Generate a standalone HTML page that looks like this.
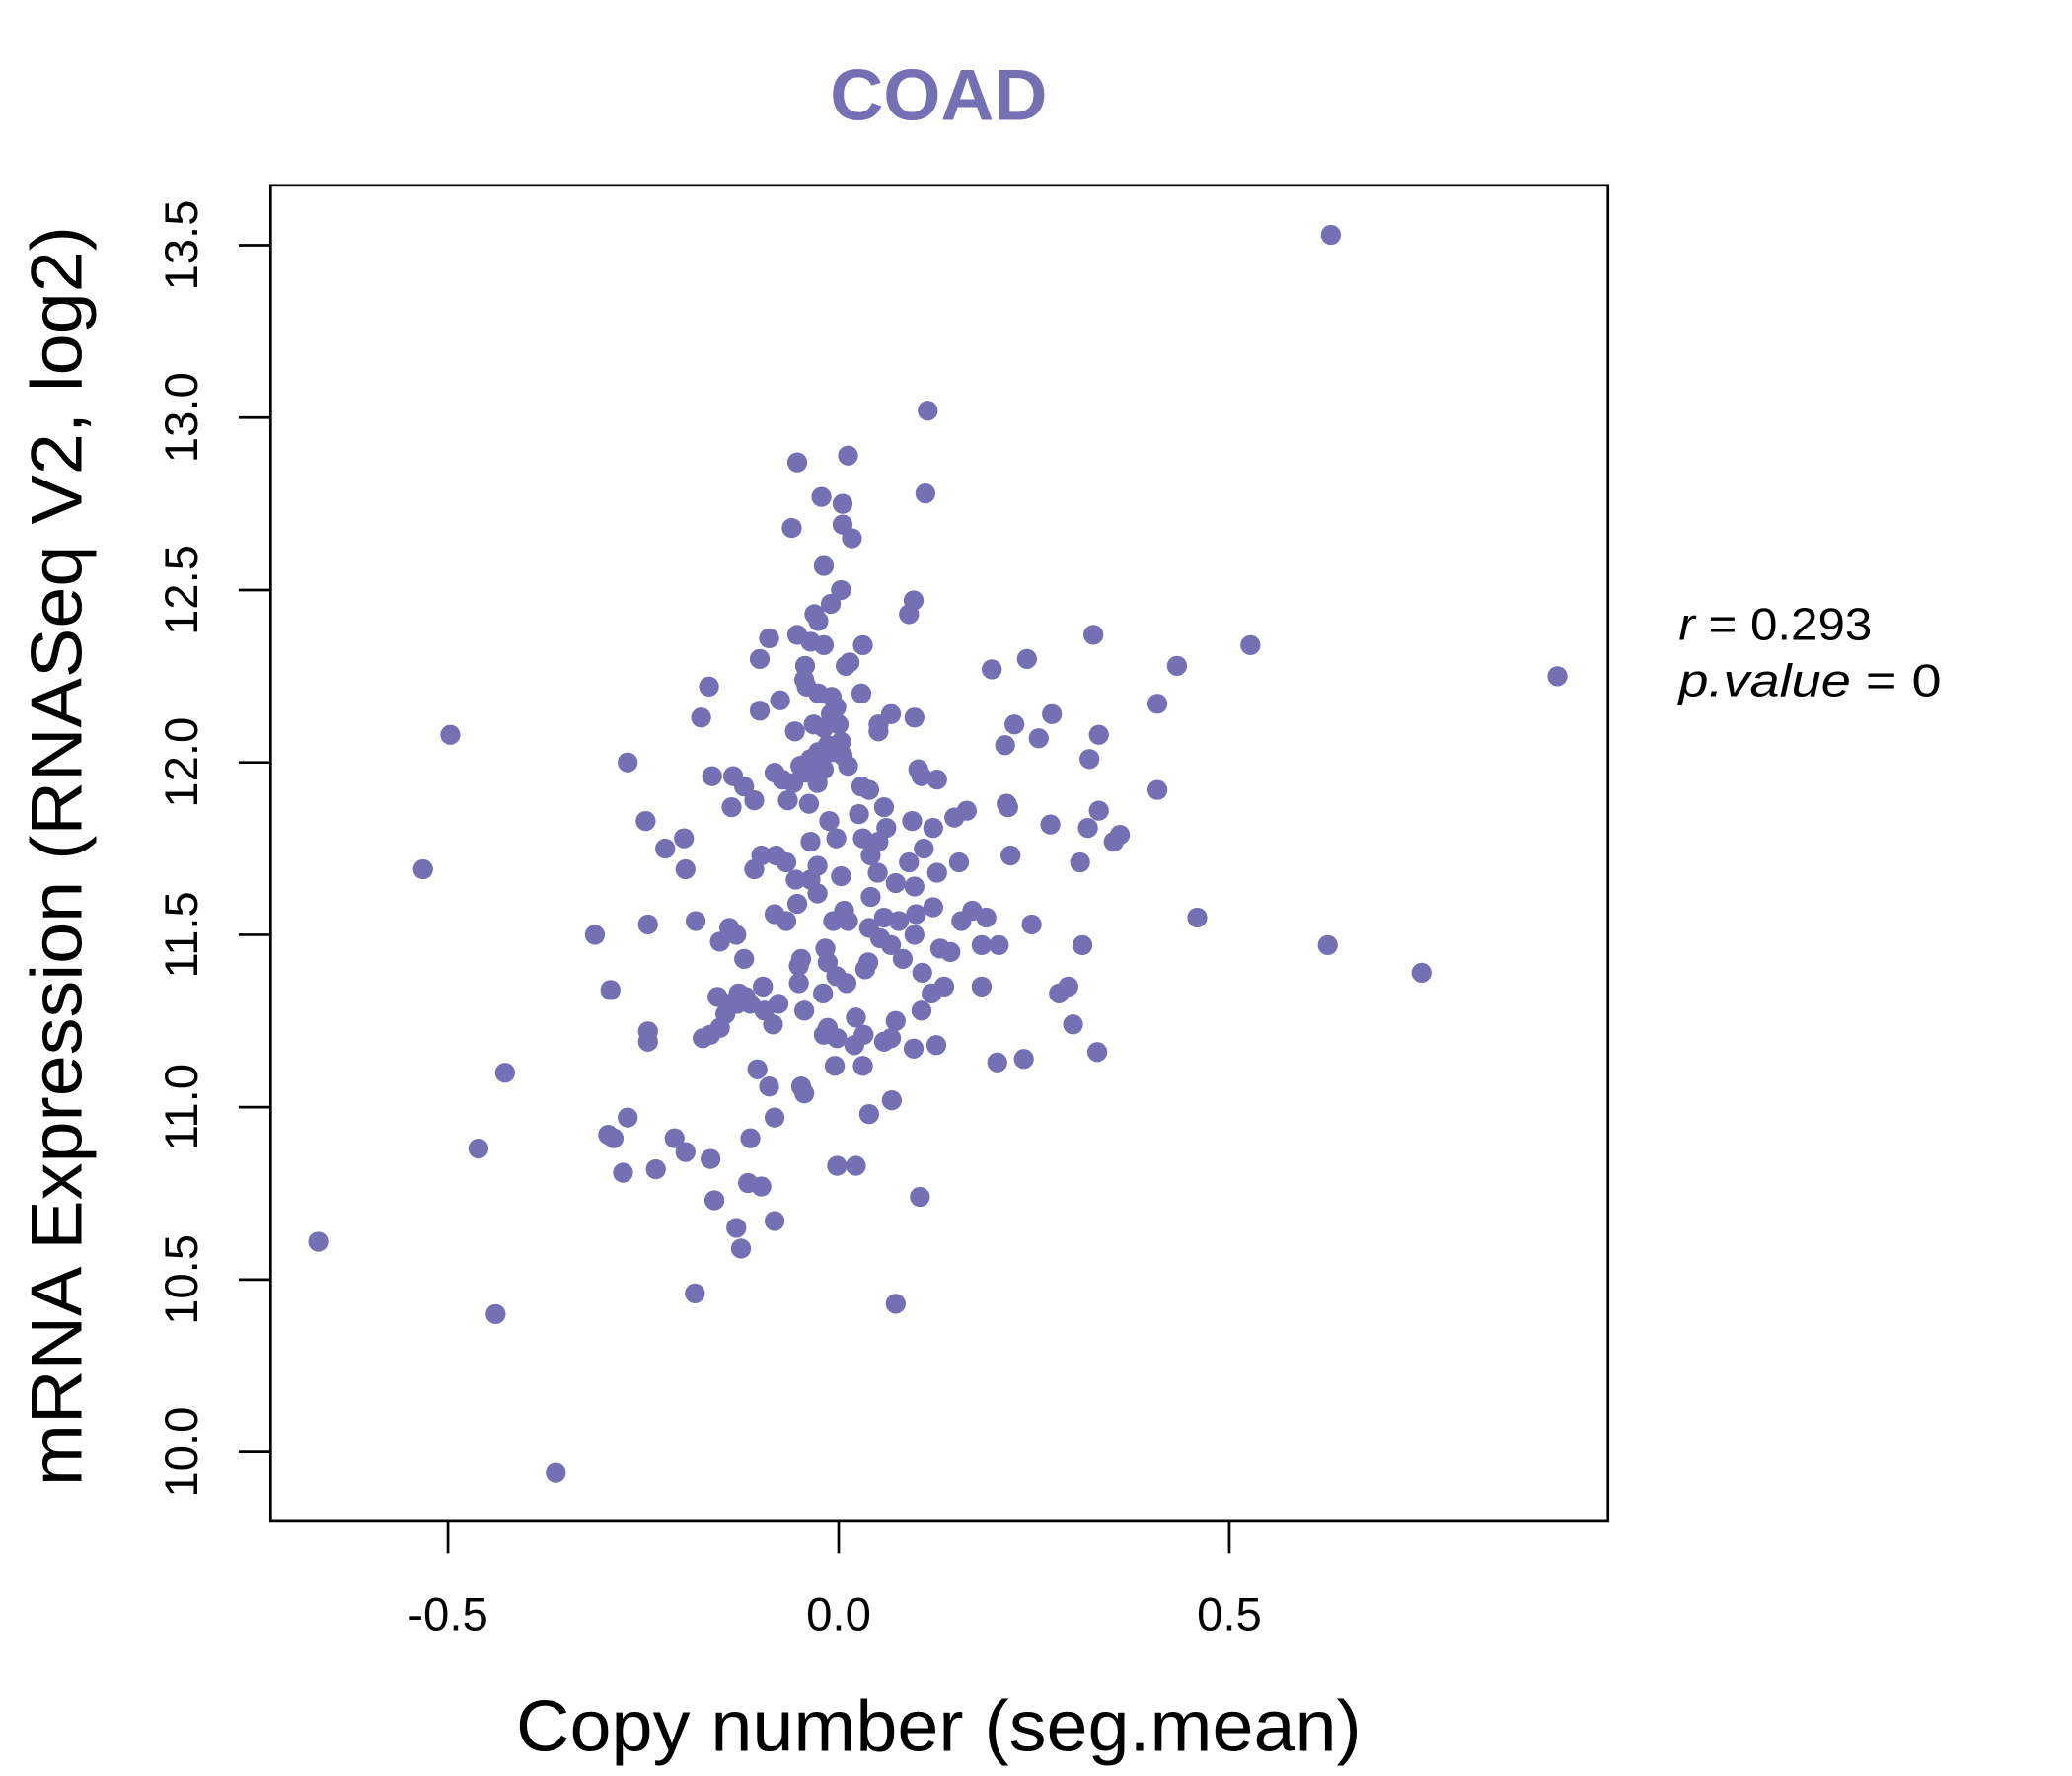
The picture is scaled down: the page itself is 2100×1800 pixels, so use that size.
<!DOCTYPE html>
<html><head><meta charset="utf-8"><style>html,body{margin:0;padding:0;background:#fff}svg{display:block}</style></head>
<body>
<svg id="chart" width="2100" height="1800" viewBox="0 0 1552 1332" xmlns="http://www.w3.org/2000/svg" font-family="Liberation Sans, sans-serif">
<rect width="1552" height="1332" fill="#fff"/>
<text x="703" y="90" text-anchor="middle" font-size="54" font-weight="bold" fill="#7570B3" textLength="163" lengthAdjust="spacingAndGlyphs">COAD</text>
<rect x="202" y="139" width="1003" height="1002" fill="none" stroke="#000" stroke-width="2"/>
<g id="xticks"></g>
<g id="yticks"></g>
<g id="points"></g>
<text x="703" y="1313" text-anchor="middle" font-size="54" textLength="634" lengthAdjust="spacingAndGlyphs">Copy number (seg.mean)</text>
<text transform="translate(60,642) rotate(-90)" text-anchor="middle" font-size="54" textLength="945" lengthAdjust="spacingAndGlyphs">mRNA Expression (RNASeq V2, log2)</text>
<text x="1258" y="480" font-size="34" textLength="145" lengthAdjust="spacingAndGlyphs"><tspan font-style="italic">r</tspan> = 0.293</text>
<text x="1258" y="522" font-size="34" textLength="197" lengthAdjust="spacingAndGlyphs"><tspan font-style="italic">p.value</tspan> = 0</text>
</svg>
<script>
const xTicks=[-0.5,0.0,0.5];
const xTickLabels=["-0.5","0.0","0.5"];
const yTicks=[10,10.5,11,11.5,12,12.5,13,13.5];
const yTickLabels=["10.0","10.5","11.0","11.5","12.0","12.5","13.0","13.5"];
const xVals=[0.630,0.114,0.012,-0.053,0.111,-0.022,0.005,0.005,-0.060,0.017,-0.019,0.003,0.096,-0.010,0.090,-0.031,-0.026,0.326,-0.089,-0.053,-0.036,-0.019,0.031,0.527,0.241,-0.101,0.014,0.009,-0.043,0.196,0.433,0.920,-0.044,-0.041,-0.166,0.029,-0.026,-0.009,-0.075,0.408,-0.003,-0.101,0.067,0.273,-0.010,0.097,-0.176,-0.032,0,0.225,0.051,-0.019,0.051,-0.056,-0.497,0.333,0.256,0.213,0.003,-0.014,-0.009,-0.026,0.005,0.321,-0.036,-0.049,-0.270,0.012,-0.019,0.102,-0.082,-0.043,-0.162,-0.135,0.106,0.126,-0.072,-0.058,-0.121,-0.027,0.029,0.039,0.408,-0.108,0.215,-0.065,-0.038,-0.137,0.058,0.217,0.164,0.333,0.026,0.148,-0.247,0.094,-0.012,0.121,0.271,0.319,0.061,0.360,0.352,-0.198,-0.036,-0.003,0.031,0.051,-0.222,0.109,-0.099,-0.080,0.220,0.041,-0.067,0.090,0.154,0.309,-0.027,-0.532,-0.196,-0.108,0.126,0.050,0.003,-0.055,-0.036,0.073,0.097,0.041,-0.027,-0.053,0.171,0.121,0.007,0.099,-0.082,0.189,0.459,0.058,-0.007,0.012,0.157,0.077,-0.183,-0.067,-0.244,0.247,-0.140,0.039,-0.131,-0.312,0.097,0.053,-0.152,0.067,0.205,0.183,0.626,0.312,0.130,-0.017,0.143,-0.121,-0.048,0.082,-0.014,0.038,-0.051,0.034,0.107,0.746,-0.003,0.010,-0.051,0.135,0.183,-0.097,-0.292,-0.020,0.294,0.119,-0.128,0.282,-0.155,-0.119,-0.140,-0.077,-0.113,-0.130,-0.044,0.106,-0.095,-0.145,0.073,0.022,0.300,-0.084,-0.152,-0.014,-0.244,-0.019,-0.164,0.032,-0.002,-0.174,0.067,0.058,-0.244,0.020,0.096,0.125,0.331,0.237,0.203,-0.005,0.031,-0.427,-0.104,-0.089,-0.048,-0.044,0.068,-0.270,0.039,-0.082,-0.295,-0.288,-0.113,-0.210,-0.461,-0.196,-0.164,-0.002,0.022,-0.276,-0.234,-0.116,-0.099,0.104,-0.159,-0.082,-0.131,-0.666,-0.125,-0.184,0.073,-0.439,-0.362];
const yVals=[13.53,13.02,12.89,12.87,12.78,12.77,12.75,12.69,12.68,12.65,12.57,12.50,12.47,12.46,12.43,12.43,12.41,12.37,12.36,12.37,12.35,12.34,12.34,12.34,12.30,12.30,12.29,12.28,12.28,12.27,12.28,12.25,12.24,12.22,12.22,12.20,12.20,12.19,12.18,12.17,12.16,12.15,12.14,12.14,12.14,12.13,12.13,12.11,12.11,12.11,12.11,12.10,12.09,12.09,12.08,12.08,12.07,12.05,12.06,12.05,12.03,12.03,12.02,12.01,12.01,11.99,12.00,11.99,11.98,11.98,11.97,11.97,11.96,11.96,11.96,11.95,11.95,11.94,11.93,11.94,11.93,11.92,11.92,11.89,11.88,11.89,11.88,11.87,11.87,11.87,11.86,11.86,11.85,11.84,11.83,11.83,11.83,11.81,11.82,11.81,11.81,11.79,11.77,11.78,11.77,11.78,11.78,11.77,11.75,11.75,11.73,11.73,11.73,11.73,11.71,11.71,11.71,11.71,11.70,11.69,11.69,11.69,11.68,11.68,11.67,11.66,11.66,11.65,11.64,11.61,11.62,11.59,11.57,11.58,11.57,11.56,11.56,11.55,11.55,11.55,11.54,11.54,11.54,11.54,11.54,11.54,11.53,11.53,11.52,11.52,11.50,11.50,11.50,11.49,11.48,11.47,11.47,11.47,11.47,11.47,11.46,11.46,11.45,11.43,11.43,11.43,11.42,11.42,11.41,11.40,11.39,11.39,11.38,11.36,11.36,11.35,11.35,11.35,11.34,11.33,11.35,11.33,11.33,11.33,11.32,11.32,11.30,11.30,11.30,11.30,11.28,11.28,11.28,11.27,11.25,11.26,11.24,11.24,11.23,11.23,11.22,11.21,11.21,11.21,11.20,11.20,11.20,11.19,11.19,11.18,11.17,11.18,11.16,11.14,11.13,11.12,11.12,11.10,11.11,11.06,11.06,11.04,11.02,10.97,10.98,10.97,10.92,10.91,10.91,10.91,10.88,10.87,10.85,10.83,10.83,10.81,10.82,10.78,10.77,10.74,10.73,10.67,10.65,10.61,10.59,10.46,10.43,10.40,9.94];
const NS="http://www.w3.org/2000/svg";
function sx(v){return 628+v*586;}
function sy(v){return 1089-(v-10)*258.6;}
const xg=document.getElementById('xticks'),yg=document.getElementById('yticks'),pg=document.getElementById('points');
xTicks.forEach((t,i)=>{
  const l=document.createElementNS(NS,'line');
  
  
  l.setAttribute('x1',sx(t));l.setAttribute('x2',sx(t));l.setAttribute('y1',1141);l.setAttribute('y2',1165);l.setAttribute('stroke','#000');l.setAttribute('stroke-width','2');xg.appendChild(l);
  const tx=document.createElementNS(NS,'text');
  
  
  tx.setAttribute('x',sx(t));tx.setAttribute('y',1223);tx.setAttribute('text-anchor','middle');tx.setAttribute('font-size','35');tx.textContent=xTickLabels[i];xg.appendChild(tx);
});
yTicks.forEach((t,i)=>{
  const l=document.createElementNS(NS,'line');
  
  
  l.setAttribute('x1',178);l.setAttribute('x2',202);l.setAttribute('y1',sy(t));l.setAttribute('y2',sy(t));l.setAttribute('stroke','#000');l.setAttribute('stroke-width','2');yg.appendChild(l);
  const tx=document.createElementNS(NS,'text');
  
  
  tx.setAttribute('transform','translate(147,'+sy(t)+') rotate(-90)');tx.setAttribute('text-anchor','middle');tx.setAttribute('font-size','35');tx.textContent=yTickLabels[i];yg.appendChild(tx);
});
xVals.forEach((x,i)=>{
  const c=document.createElementNS(NS,'circle');
  
  
  c.setAttribute('cx',sx(x));c.setAttribute('cy',sy(yVals[i]));c.setAttribute('r','7.5');c.setAttribute('fill','#7570B3');pg.appendChild(c);
});
</script>
</body></html>
